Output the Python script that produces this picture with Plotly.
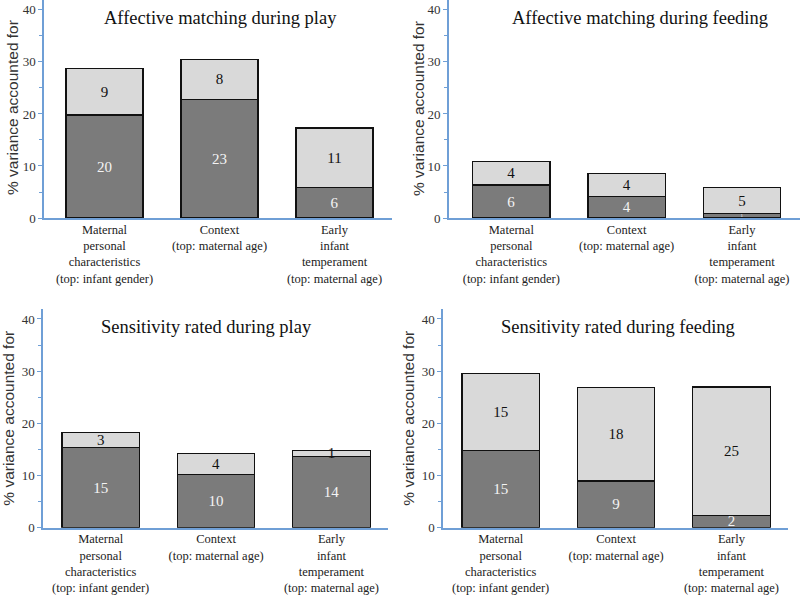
import plotly.graph_objects as go

categories = [
    "Maternal<br>personal<br>characteristics<br>(top: infant gender)",
    "Context<br>(top: maternal age)",
    "Early<br>infant<br>temperament<br>(top: maternal age)",
]
panel_titles = [
    "Affective matching during play",
    "Affective matching during feeding",
    "Sensitivity rated during play",
    "Sensitivity rated during feeding",
]
# bottom (dark) segment and top (light) segment, % variance accounted for
dark_values = [
    [19.8, 22.8, 5.9],
    [6.35, 4.1, 0.9],
    [15.4, 10.2, 13.7],
    [14.8, 8.95, 2.4],
]
light_values = [
    [9.0, 7.7, 11.4],
    [4.45, 4.4, 4.9],
    [2.8, 4.0, 1.05],
    [14.8, 17.85, 24.55],
]
y_title = "% variance accounted for"

SERIF = "Liberation Serif"
SANS = "Liberation Sans"
BLUE = "#6f9fd6"
DARK = "#7b7b7b"
LIGHT = "#d9d9d9"

x_pos = [0, 1, 2]

# layout geometry per panel (paper fractions)
x_domains = [[0.055, 0.49], [0.561, 1.0], [0.05375, 0.485], [0.55375, 0.985]]
x_ranges = [[-0.526, 2.50], [-0.542, 2.503], [-0.5, 2.49], [-0.5, 2.49]]
y_domains = [[0.6348, 1.0], [0.6348, 1.0], [0.1161, 0.4832], [0.1161, 0.4832]]
y_ranges = [[0, 41.9], [0, 41.9], [0, 42], [0, 42]]
title_pos = [(220, 18), (640, 18), (206, 327), (618, 327)]
ytitle_pos = [(12, 108), (419, 109), (7.7, 418), (407.7, 418)]

fig = go.Figure()
W, H = 800, 597

for i in range(4):
    xa = "x" if i == 0 else f"x{i+1}"
    ya = "y" if i == 0 else f"y{i+1}"
    fig.add_trace(go.Bar(
        x=x_pos, y=dark_values[i], xaxis=xa, yaxis=ya,
        marker=dict(color=DARK, line=dict(color="#111111", width=1.2)),
        width=0.67,
        text=[f"{round(v)}" for v in dark_values[i]],
        textposition="inside", insidetextanchor="middle", textangle=0,
        constraintext="none",
        textfont=dict(family=SERIF, color="#f4f4f4",
                      size=[15 if v > 1.5 else 5 for v in dark_values[i]]),
        showlegend=False, hoverinfo="skip", cliponaxis=True,
    ))
    fig.add_trace(go.Bar(
        x=x_pos, y=light_values[i], xaxis=xa, yaxis=ya,
        marker=dict(color=LIGHT, line=dict(color="#111111", width=1.2)),
        width=0.67,
        text=[f"{round(v)}" for v in light_values[i]],
        textposition="inside", insidetextanchor="middle", textangle=0,
        constraintext="none",
        textfont=dict(family=SERIF, size=15, color="#111111"),
        showlegend=False, hoverinfo="skip",
    ))

layout = dict(
    width=W, height=H, autosize=False, barmode="stack",
    margin=dict(l=0, r=0, t=0, b=0, pad=0, autoexpand=False),
    paper_bgcolor="white", plot_bgcolor="white",
    font=dict(family=SERIF, color="#222222"),
    annotations=[],
)
for i in range(4):
    xk = "xaxis" if i == 0 else f"xaxis{i+1}"
    yk = "yaxis" if i == 0 else f"yaxis{i+1}"
    ya = "y" if i == 0 else f"y{i+1}"
    xa = "x" if i == 0 else f"x{i+1}"
    layout[xk] = dict(
        domain=x_domains[i], range=x_ranges[i], anchor=ya,
        tickvals=x_pos, ticktext=categories, automargin=False,
        showline=True, linecolor=BLUE, linewidth=1.5,
        showgrid=False, zeroline=False, ticks="",
        ticklabelstandoff=-1,
        tickfont=dict(family=SERIF, size=12.5, color="#222222"),
    )
    layout[yk] = dict(
        domain=y_domains[i], range=y_ranges[i], anchor=xa, automargin=False,
        tickvals=[0, 10, 20, 30, 40],
        showline=True, linecolor=BLUE, linewidth=1.5,
        showgrid=False, zeroline=False,
        ticks="outside", ticklen=4, tickcolor=BLUE, tickwidth=1,
        minor=dict(dtick=5, ticks="outside", ticklen=3, tickcolor=BLUE, tickwidth=1),
        tickfont=dict(family=SERIF, size=13, color="#333333"),
    )
    tx, ty = title_pos[i]
    layout["annotations"].append(dict(
        text=panel_titles[i], xref="paper", yref="paper",
        x=tx / W, y=1 - ty / H, xanchor="center", yanchor="middle",
        showarrow=False, font=dict(family=SERIF, size=18.5, color="#111111"),
    ))
    yx, yy = ytitle_pos[i]
    layout["annotations"].append(dict(
        text=y_title, xref="paper", yref="paper",
        x=yx / W, y=1 - yy / H, xanchor="center", yanchor="middle",
        textangle=-90, showarrow=False,
        font=dict(family=SANS, size=15.5, color="#333333"),
    ))

fig.update_layout(**layout)
fig.write_html("out.html", config={"displayModeBar": False},
               post_script="document.body.style.margin='0';")
